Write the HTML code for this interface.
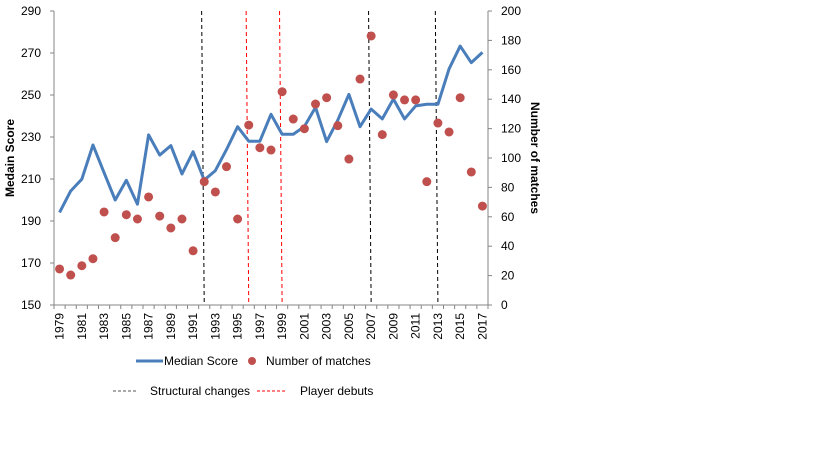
<!DOCTYPE html>
<html><head><meta charset="utf-8"><style>
body{margin:0;background:#fff;}
svg text{font-family:"Liberation Sans",sans-serif;fill:#000;}
</style></head><body>
<svg id="chart" width="819" height="460" xmlns="http://www.w3.org/2000/svg"></svg>
<script>
const years=[];for(let y=1979;y<=2017;y++)years.push(y);
const medianScore=[194.1,204.3,209.9,226.2,213,200,209.4,198,231,221.4,225.9,212.4,223,209.5,214,224,234.9,228,228,240.8,231.3,231.3,235,244.1,227.8,238,250.3,234.9,243.3,238.6,248.1,238.6,244.8,245.6,245.6,262.4,273.3,265.4,270.3];
const matches=[24.5,20.4,26.7,31.5,63.3,45.8,61.4,58.5,73.5,60.5,52.4,58.5,36.9,83.9,76.9,94.1,58.5,122.4,107,105.4,145.1,126.5,119.9,136.7,141,122,99.3,153.7,183,115.9,142.9,139.5,139.5,83.9,123.8,117.7,141,90.5,67.3];
const leftTicks=[150,170,190,210,230,250,270,290];
const rightTicks=[0,20,40,60,80,100,120,140,160,180,200];
const structuralChanges=[1992,2007,2013];
const playerDebuts=[1996,1999];

const NS="http://www.w3.org/2000/svg";
const svg=document.getElementById('chart');
const L=54,R=488,T=11,B=305;
const step=(R-L)/years.length;
const xc=i=>L+step*(i+0.5);
const yL=v=>B-(v-150)/140*(B-T);
const yR=v=>B-v/200*(B-T);
function el(tag,attrs,parent){const e=document.createElementNS(NS,tag);for(const k in attrs)e.setAttribute(k,attrs[k]);(parent||svg).appendChild(e);return e;}

let a=el('line',{x1:L,y1:T,x2:L,y2:B,stroke:'#868686'});

a=el('line',{x1:R,y1:T,x2:R,y2:B,stroke:'#868686'});

a=el('line',{x1:L,y1:B,x2:R,y2:B,stroke:'#868686'});

leftTicks.forEach(v=>{
  el('line',{x1:L-4,y1:yL(v),x2:L,y2:yL(v),stroke:'#868686'});
  const t=el('text',{x:L-13,y:yL(v)+4,'font-size':12,'text-anchor':'end'});t.textContent=v;
  
});
rightTicks.forEach(v=>{
  el('line',{x1:R,y1:yR(v),x2:R+4,y2:yR(v),stroke:'#868686'});
  const t=el('text',{x:R+13,y:yR(v)+4,'font-size':12});t.textContent=v;
  
});
for(let i=0;i<=years.length;i++){el('line',{x1:L+step*i,y1:B,x2:L+step*i,y2:B+4,stroke:'#868686'});}
years.forEach((yr,i)=>{
  if(i%2)return;
  const x=xc(i);
  const t=el('text',{x:0,y:0,'font-size':12,'text-anchor':'end',transform:`translate(${x+4},${313}) rotate(-90)`});
  t.textContent=yr;
  
});
let t=el('text',{x:0,y:0,'font-size':12,'font-weight':'bold','text-anchor':'middle',transform:`translate(14,158) rotate(-90)`});t.textContent='Medain Score';

t=el('text',{x:0,y:0,'font-size':12,'font-weight':'bold','text-anchor':'middle',transform:`translate(531,158) rotate(90)`});t.textContent='Number of matches';

function vline(yr,color,name){
  const i=years.indexOf(yr);const x=xc(i);
  const l=el('line',{x1:x-2.6,y1:T,x2:x,y2:B,stroke:color,'stroke-width':1,'stroke-dasharray':'4,3'});
  
}
structuralChanges.forEach(y=>vline(y,'#000','structural-change-line'));
playerDebuts.forEach(y=>vline(y,'#f00','player-debut-line'));
const p=el('polyline',{points:medianScore.map((v,i)=>xc(i)+','+yL(v)).join(' '),fill:'none',stroke:'#4a7ebb','stroke-width':3,'stroke-linejoin':'round'});

matches.forEach((v,i)=>{
  const c=el('circle',{cx:xc(i),cy:yR(v),r:4.5,fill:'#c0504d'});
  
});
let g=el('g',{});
el('line',{x1:136,y1:361,x2:163,y2:361,stroke:'#4a7ebb','stroke-width':3},g);
t=el('text',{x:164,y:365,'font-size':12},g);t.textContent='Median Score';
g=el('g',{});
el('circle',{cx:252,cy:361,r:4,fill:'#c0504d'},g);
t=el('text',{x:266,y:365,'font-size':12},g);t.textContent='Number of matches';
g=el('g',{});
el('line',{x1:113,y1:391,x2:137,y2:391,stroke:'#555','stroke-dasharray':'3,2'},g);
t=el('text',{x:150,y:395,'font-size':12},g);t.textContent='Structural changes';
g=el('g',{});
el('line',{x1:257,y1:391,x2:287,y2:391,stroke:'#f00','stroke-dasharray':'3,2'},g);
t=el('text',{x:300,y:395,'font-size':12},g);t.textContent='Player debuts';
</script>
</body></html>
